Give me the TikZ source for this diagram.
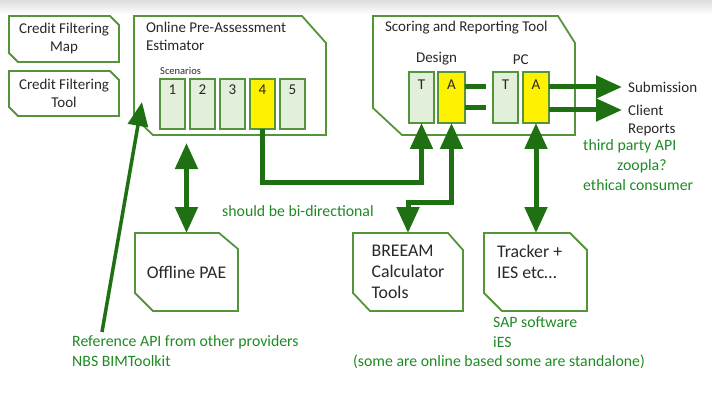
\documentclass[tikz,border=0pt]{standalone}
\usepackage{fontspec}
\setmainfont{Carlito}
\usetikzlibrary{calc,positioning,arrows.meta}

\definecolor{boxgreen}{RGB}{84,148,58}
\definecolor{lightgreen}{RGB}{226,239,218}
\definecolor{flowgreen}{RGB}{30,112,18}
\definecolor{notegreen}{RGB}{30,138,36}
\definecolor{inkgray}{RGB}{40,40,40}

% outline with cut top-right and bottom-left corners
\newcommand{\cutoutline}[5]{%
  \draw[boxline] (#1.north west) -- ([xshift=-#2pt]#1.north east)
    -- ([yshift=-#3pt]#1.north east) -- (#1.south east)
    -- ([xshift=#4pt]#1.south west) -- ([yshift=#5pt]#1.south west) -- cycle;}

\begin{document}
\begin{tikzpicture}[x=1pt,y=-1pt,
>={Triangle[length=26pt,width=22pt]},
frame/.style = {draw=none, outer sep=0pt, inner sep=0pt, text=inkgray, align=center,
                font=\fontsize{15}{18}\selectfont},
bigtext/.style = {text=inkgray, inner sep=0pt, align=left, font=\fontsize{17.8}{21}\selectfont},
boxline/.style = {draw=boxgreen, line width=1.8pt},
scen/.style = {draw=boxgreen, line width=1.8pt, fill=lightgreen, minimum width=25pt,
               minimum height=50pt, inner sep=0pt, outer sep=0pt},
digit/.style = {anchor=north, inner sep=5.5pt, text=inkgray, font=\fontsize{15}{18}\selectfont},
letter/.style = {digit, inner sep=7.5pt},
outtext/.style = {inner sep=0pt, text=inkgray, font=\fontsize{15}{18}\selectfont},
note/.style = {inner sep=0pt, text=notegreen, align=left, font=\fontsize{15.8}{20}\selectfont},
link/.style = {draw=flowgreen, line width=5pt},
flow/.style = {link, ->},
biflow/.style = {link, <->},
thinflow/.style = {draw=flowgreen, line width=3.5pt, -{Triangle[length=24pt,width=20pt]}}]

\useasboundingbox (0,0) rectangle (712,401);
\shade[top color=black!13, bottom color=white] (0,0) rectangle (712,15);

% boxes
\node[frame, minimum width=110pt, minimum height=46pt] (map) at (64,39) {Credit Filtering\\Map};
\node[frame, minimum width=110pt, minimum height=45pt] (tool) at (64,93.5) {Credit Filtering\\Tool};
\node[frame, minimum width=192pt, minimum height=119pt] (online) at (230,75.5) {};
\node[frame, minimum width=202pt, minimum height=119pt] (scoring) at (474,75.5) {};
\node[frame, bigtext, minimum width=103pt, minimum height=78pt, align=center] (offline) at (186.5,272) {Offline PAE};
\node[frame, bigtext, minimum width=110pt, minimum height=78pt] (breeam) at (408,272) {BREEAM\\Calculator\\Tools};
\node[frame, minimum width=103pt, minimum height=78pt] (tracker) at (535.5,272) {};

\cutoutline{map}{9}{9}{9}{9}
\cutoutline{tool}{9}{9}{9}{9}
\cutoutline{online}{24}{27}{19}{18}
\cutoutline{scoring}{17}{27}{29}{27}
\cutoutline{offline}{19}{16}{18}{18}
\cutoutline{breeam}{15}{17}{17}{18}
\cutoutline{tracker}{17}{17}{18}{18}

\node[frame, anchor=north west, align=left] (onlinetitle) at ([xshift=12pt,yshift=-6.5pt]online.north west)
  {Online Pre-Assessment\\Estimator};
\node[frame, anchor=west] (scoringtitle) at ([xshift=12pt,yshift=-12pt]scoring.north west)
  {Scoring and Reporting Tool};
\node[bigtext, anchor=north west] (trackertext) at ([xshift=13pt,yshift=-12pt]tracker.north west)
  {Tracker +\\IES etc…};

% scenarios
\foreach \i/\f in {1/lightgreen,2/lightgreen,3/lightgreen,4/yellow,5/lightgreen}
  \node[scen, fill=\f, label={[digit]north:\i}] (s\i) at ({172.5+30*(\i-1)},104) {};
\node[outtext, anchor=south west, font=\fontsize{10.5}{12}\selectfont] (scenlabel)
  at ([yshift=4pt]s1.north west) {Scenarios};

% design and pc columns
\node[scen, minimum height=51pt, label={[letter]north:T}] (dT) at (421.5,97.5) {};
\node[scen, minimum height=51pt, minimum width=27pt, fill=yellow, label={[letter]north:A}] (dA) at (451.5,97.5) {};
\node[scen, minimum height=51pt, label={[letter]north:T}] (pT) at (505.5,97.5) {};
\node[scen, minimum height=51pt, minimum width=26pt, fill=yellow, label={[letter]north:A}] (pA) at (536,97.5) {};
\node[outtext, anchor=south] (design) at ([yshift=7pt]$(dT.north)!0.5!(dA.north)$) {Design};
\node[outtext, anchor=south] (pc) at ([yshift=7pt]$(pT.north)!0.5!(pA.north)$) {PC};

% outputs
\node[outtext, anchor=west] (sub) at (628,87) {Submission};
\node[outtext, anchor=west] (client) at (628,110) {Client};
\node[outtext, anchor=base west] (reports) at ([yshift=-18pt]client.base west) {Reports};

% notes
\node[note, anchor=north west] (thirdparty) at (583,139)
  {third party API\\\hspace*{34pt}zoopla?\\ethical consumer};
\node[note, anchor=north west] (bidir) at (222,205) {should be bi-directional};
\node[note, anchor=north west] (sap) at (493,316) {SAP software\\iES};
\node[note, anchor=base west] (standalone) at (353,366.5) {(some are online based some are standalone)};
\node[note, anchor=north west] (refapi) at (72,335) {Reference API from other providers\\NBS BIMToolkit};

% connectors
\draw[biflow] ($(online.south -| offline.north)+(0,8)$) -- (offline.north);
\draw[flow] (s4.south) -- ++(0,53) -| (dT.south);
\draw[biflow] (dA.south) -- ++(0,79) -| (breeam.north);
\draw[biflow] (pA.south) -- (pA.south |- tracker.north);
\draw[link] ([yshift=10.5pt]dA.east) -- ++(21,0);
\draw[link] ([yshift=-10.5pt]dA.east) -- ++(21,0);
\draw[flow] ([yshift=10.5pt]pA.east) -- ([xshift=-6pt]sub.west);
\draw[flow] ([yshift=-12.5pt]pA.east) -- ([xshift=-6pt]client.west);
\draw[thinflow] ([xshift=30pt,yshift=3pt]refapi.north west) -- ([xshift=8pt,yshift=33pt]online.south west);
\end{tikzpicture}
\end{document}
